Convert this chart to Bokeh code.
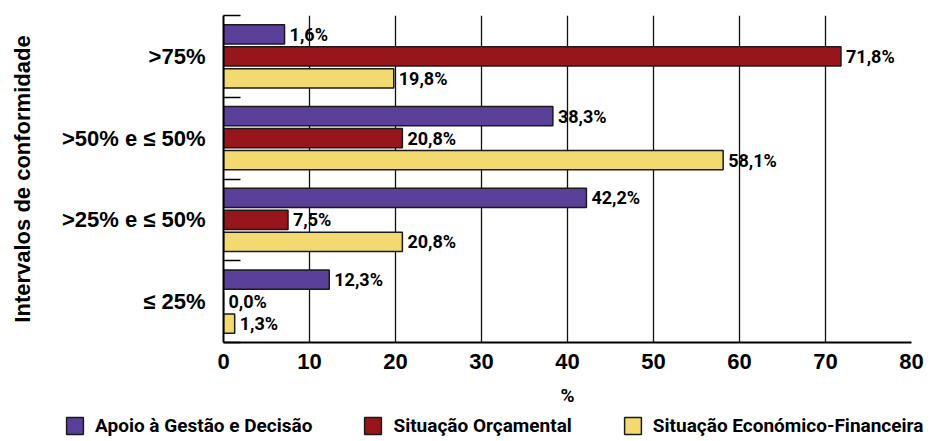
from bokeh.plotting import figure
from bokeh.models import (ColumnDataSource, Range1d, LinearAxis,
                          FixedTicker, Legend, LegendItem)
from bokeh.embed import file_html
from bokeh.resources import INLINE
from bokeh.core.properties import value

# ---- data ----
categories = [">75%", ">50% e ≤ 50%", ">25% e ≤ 50%", "≤ 25%"]
series_names = ["Apoio à Gestão e Decisão", "Situação Orçamental", "Situação Económico-Financeira"]
apoio = [7.1, 38.3, 42.2, 12.3]
orcamental = [71.8, 20.8, 7.5, 0.0]
economico = [19.8, 58.1, 20.8, 1.3]
apoio_labels = ["1,6%", "38,3%", "42,2%", "12,3%"]
orcamental_labels = ["71,8%", "20,8%", "7,5%", "0,0%"]
economico_labels = ["19,8%", "58,1%", "20,8%", "1,3%"]
x_ticks = [0, 10, 20, 30, 40, 50, 60, 70, 80]

colors = ["#5a4098", "#96161c", "#f2da70"]
offsets = [0.27, 0.0, -0.27]
COND = "Roboto"
SANS = "Liberation Sans"

n = len(categories)
centers = [n - i - 0.5 for i in range(n)]
boundaries = list(range(n + 1))

p = figure(width=934, height=410,
           y_range=Range1d(0, n),
           x_range=Range1d(0, 80),
           output_backend="svg", toolbar_location=None,
           y_axis_location=None,
           min_border_left=223, min_border_right=23,
           min_border_top=15, min_border_bottom=68)
p.outline_line_color = None
p.background_fill_color = "white"
p.border_fill_color = "white"

# inner axis: category boundary ticks
tick_axis = LinearAxis(ticker=FixedTicker(ticks=boundaries),
                       major_label_overrides={b: "" for b in boundaries},
                       major_tick_in=17, major_tick_out=0, minor_tick_line_color=None,
                       major_label_text_font_size="1px", major_label_standoff=0,
                       axis_line_color="black", axis_line_width=2,
                       major_tick_line_color="black", major_tick_line_width=1.3)
p.add_layout(tick_axis, "left")

cat_axis = LinearAxis(ticker=FixedTicker(ticks=centers),
                      major_label_overrides={c: lab for c, lab in zip(centers, categories)},
                      axis_line_color=None, major_tick_line_color=None,
                      minor_tick_line_color=None,
                      major_tick_in=0, major_tick_out=0,
                      major_label_standoff=18,
                      major_label_text_font=SANS, major_label_text_font_style="bold",
                      major_label_text_font_size="22px", major_label_text_color="black",
                      axis_label="Intervalos de conformidade",
                      axis_label_standoff=24,
                      axis_label_text_font=SANS, axis_label_text_font_style="bold",
                      axis_label_text_font_size="22px", axis_label_text_color="black")
p.add_layout(cat_axis, "left")

xa = p.xaxis[0]
xa.ticker = FixedTicker(ticks=x_ticks)
xa.major_tick_in = 0
xa.major_tick_out = 0
xa.minor_tick_line_color = None
xa.axis_line_color = "black"
xa.axis_line_width = 2
xa.major_label_standoff = 11
xa.major_label_text_font = SANS
xa.major_label_text_font_style = "bold"
xa.major_label_text_font_size = "22px"
xa.major_label_text_color = "black"
xa.axis_label = "%"
xa.axis_label_standoff = 12
xa.axis_label_text_font = COND
xa.axis_label_text_font_style = "bold"
xa.axis_label_text_font_size = "19px"
xa.axis_label_text_color = "black"

p.ygrid.visible = False
p.xgrid.grid_line_color = "#111111"
p.xgrid.grid_line_width = 1.3

# ---- legend strip (separate root, no frame alignment) ----
lg = figure(width=934, height=28, x_range=Range1d(0, 1), y_range=Range1d(0, 1),
            output_backend="svg", toolbar_location=None,
            x_axis_location=None, y_axis_location=None, min_border=0)
lg.outline_line_color = None
lg.xgrid.visible = False
lg.ygrid.visible = False

values = [apoio, orcamental, economico]
labels = [apoio_labels, orcamental_labels, economico_labels]
items = []
for name, vals, lbls, col, off in zip(series_names, values, labels, colors, offsets):
    ys = [c + off for c in centers]
    src = ColumnDataSource(dict(y=ys, val=vals, lbl=lbls))
    p.hbar(y="y", left=0, right="val", height=0.235,
           source=src, fill_color=col, line_color="#1a1a1a", line_width=1.5)
    p.text(x="val", y="y", text="lbl", source=src,
           x_offset=5, text_align="left", text_baseline="middle",
           text_font=value(COND), text_font_style="bold",
           text_font_size="18px", text_color="black", level="image")
    # hidden twin renderer that only supplies the legend swatch
    r = lg.hbar(y="y", left=0, right="val", height=0.235, source=src,
                fill_color=col, line_color="#1a1a1a", line_width=1.5, visible=False)
    items.append(LegendItem(label=name, renderers=[r]))

legend = Legend(items=items, orientation="horizontal", location=(64, 1),
                glyph_width=21, glyph_height=21, label_standoff=10, spacing=50,
                padding=0, margin=0, border_line_color=None, background_fill_alpha=0,
                inactive_fill_alpha=0, click_policy="none",
                label_text_font=COND, label_text_font_style="bold",
                label_text_font_size="19px", label_text_color="black")
lg.add_layout(legend, "center")

open("out.html", "w").write(file_html([p, lg], INLINE))
